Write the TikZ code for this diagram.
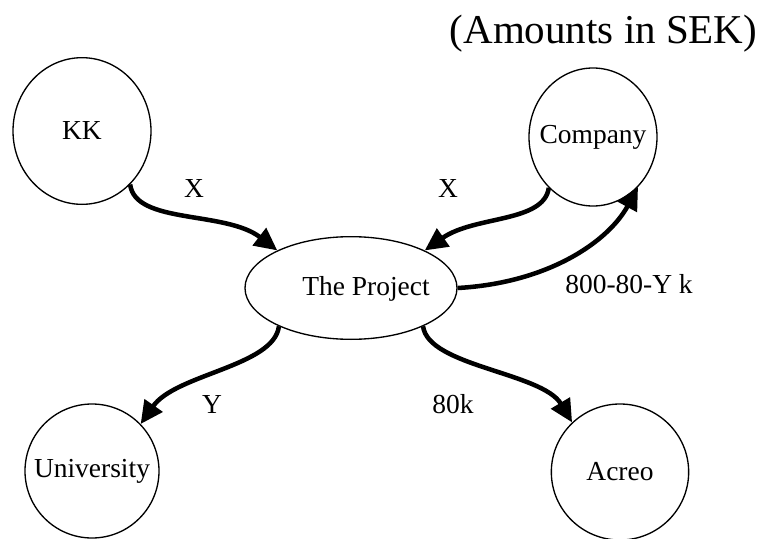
\documentclass[tikz,border=0pt]{standalone}
\usepackage{fontspec}
\setmainfont{Liberation Serif}
\usetikzlibrary{arrows.meta,shapes.geometric}

\begin{document}
\begin{tikzpicture}[
    x=0.75pt, y=-0.75pt,
    font=\fontsize{20.6}{24}\selectfont,
    party/.style={draw, ellipse, line width=1pt, inner xsep=-20pt, inner ysep=0pt},
    hub/.style={party, minimum width=159pt, minimum height=77pt},
    flow/.style={-{Triangle[length=17pt, width=16pt]}, line width=3.4pt},
    lbl/.style={anchor=base, inner sep=0pt},
  ]
  \useasboundingbox (0,0) rectangle (765,539);
  \node[lbl, font=\fontsize{30.75}{36}\selectfont] (unit) at (603.5,43) {(Amounts in SEK)};
  \node[party, minimum width=103.5pt, minimum height=110pt] (kk) at (82,131) {KK};
  \node[party, minimum width=96pt, minimum height=103.5pt] (comp) at (593,137) {Company};
  \node[hub] (proj) at (351,288) {};
  \node[lbl] (projtxt) at (366,295) {The Project};
  \node[party, minimum width=100.5pt, minimum height=100.5pt] (univ) at (92,471) {University};
  \node[party, minimum width=103pt, minimum height=102pt] (acreo) at (620,472) {Acreo};

  % money flows
  \draw[flow] (kk.-48) .. controls +(5,40) and +(-52,-40) .. (proj.153);
  \draw[flow] (comp.-131) .. controls +(-5,35) and +(50,-35) .. (proj.27);
  \draw[flow] (proj.east) .. controls +(90,-5) and +(-30,55) .. (comp.-48);
  \draw[flow] (proj.-152) .. controls +(-5,40) and +(35,-50) .. (univ.44);
  \draw[flow] (proj.-28) .. controls +(5,40) and +(-30,-50) .. (acreo.134);

  % amounts
  \node[lbl] (xkk) at (194,197) {X};
  \node[lbl] (xcomp) at (448,197) {X};
  \node[lbl] (rest) at (629,293) {800-80-Y k};
  \node[lbl] (yuniv) at (212,413) {Y};
  \node[lbl] (acr) at (453,413) {80k};
\end{tikzpicture}
\end{document}
